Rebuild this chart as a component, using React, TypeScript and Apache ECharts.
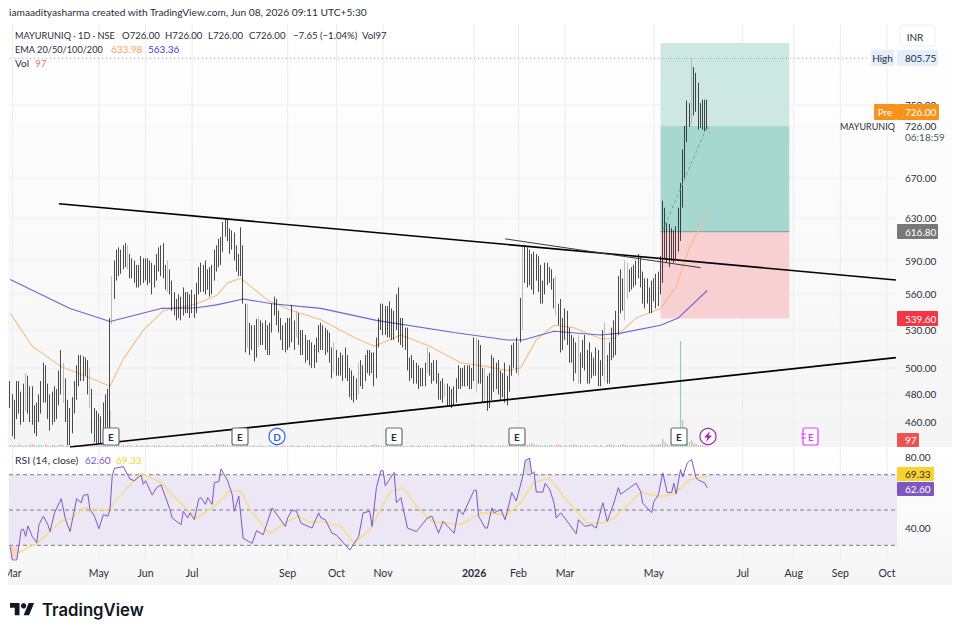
// App.tsx
import React, { useEffect, useRef } from 'react';
import * as echarts from 'echarts';

// every candle row is [open, close, low, high], one row per trading day
const candlesSpring2025 = [
  [486,476,470,490],[476,466,450,480],[466,472,448,476],[472,486,462,490],[486,478,466,490],[478,466,458,482],[466,484,460,488],[484,490,468,496],[490,474,466,494],[474,482,460,486],
  [482,468,458,486],[468,460,452,472],[460,470,450,474],[470,478,460,480],[478,486,466,490],[486,498,474,504],[498,482,474,502],[482,474,462,488],[474,466,454,480],[466,478,458,482],
  [478,470,460,486],[470,480,462,484],[480,490,472,498],[490,498,480,514],[498,486,474,504],[486,470,460,492],[470,448,444,476],[448,462,444,470],[462,472,452,478],[472,486,466,490],
  [486,498,476,502],[498,506,486,510],[506,498,490,510],[498,504,490,509],[504,500,494,508],[500,494,480,506],[494,478,470,500],[478,462,452,484],[462,452,446,470],[452,462,445,468],
  [462,450,445,466],[450,458,445,464],[458,470,450,474],[470,462,454,480],[462,474,456,484],[470,536,450,540],
];
const candlesSummer2025 = [
  [538,558,535,576],[560,580,556,590],[580,592,572,600],[592,584,576,602],[584,596,578,600],[596,590,582,604],[590,600,584,606],[600,590,582,604],[590,582,574,596],[582,586,574,592],
  [586,574,570,590],[574,580,566,586],[580,572,566,586],[572,590,568,594],[590,578,570,592],[578,588,572,592],[588,574,568,592],[574,584,570,590],[584,572,560,588],[572,580,566,586],
  [580,588,572,596],[588,598,580,602],[598,590,576,604],[590,578,574,606],[578,570,564,586],[570,576,562,590],[576,566,560,582],[566,556,546,572],[556,550,542,562],[550,546,538,556],
  [546,552,540,560],[552,546,538,558],[546,558,542,566],[558,550,544,562],[550,556,544,562],[556,548,540,560],[548,556,544,564],[556,548,540,560],[548,566,544,570],[566,576,560,584],
  [576,568,562,588],[568,578,562,586],[578,570,560,590],[570,574,564,582],[574,566,558,584],[566,578,560,586],[578,588,572,600],[588,596,580,604],[596,590,584,610],[590,604,586,612],
  [604,620,598,626],[620,626,612,630],[624,616,608,628],[616,606,596,620],[606,612,600,618],[612,598,590,616],[598,588,580,604],[588,582,576,596],[580,610,576,621],
];
const candlesAutumn2025 = [
  [600,558,552,604],[548,522,512,552],[522,530,516,552],[528,520,510,536],[520,528,514,534],[522,515,505,534],[515,522,508,539],[522,534,516,540],[534,524,518,538],[524,530,518,536],
  [530,522,514,538],[522,518,510,534],[518,532,510,536],[532,548,528,552],[548,556,542,558],[552,540,534,556],[540,534,528,546],[534,528,522,540],[528,522,514,534],[522,530,512,536],
  [530,520,514,540],[520,528,516,540],[528,534,520,551],[534,528,514,538],[528,540,524,546],[540,524,518,544],[524,516,510,530],[516,522,510,530],[522,512,504,526],[512,518,506,522],
  [518,508,502,522],[508,514,500,520],[514,506,500,518],[506,516,504,524],[516,526,512,534],[530,520,514,536],[520,526,514,534],[526,516,510,532],[516,522,512,530],[522,510,504,528],
  [510,500,492,516],[500,506,496,520],[506,498,494,514],[498,502,494,508],[502,506,494,512],[506,498,490,510],[498,504,492,516],[504,496,490,510],[496,484,478,500],[484,490,476,498],
  [490,482,474,494],[482,486,476,492],[486,500,480,504],[500,492,486,506],[492,498,484,502],[498,504,490,510],[504,510,496,514],[510,500,494,514],[500,506,496,512],[506,492,486,512],
  [496,520,492,524],[520,534,516,540],[534,546,530,552],[546,530,526,552],[530,544,526,550],[544,530,524,550],[530,542,524,554],[542,528,522,548],[528,540,522,546],[540,548,530,560],
  [560,528,520,566],
];
const candlesWinter2026 = [
  [528,534,518,540],[534,520,516,540],[520,528,514,532],[528,504,498,532],[504,496,490,508],[496,504,492,510],[504,494,488,506],[494,498,488,504],[498,490,484,502],[490,496,486,500],
  [496,490,486,500],[490,500,486,504],[500,508,496,516],[508,500,494,512],[500,494,488,504],[494,502,490,506],[502,492,488,506],[492,482,476,496],[482,486,476,490],[486,480,474,492],
  [480,484,478,488],[484,476,472,488],[476,480,472,486],[480,474,470,484],[474,480,472,486],[480,488,474,492],[488,496,484,502],[496,490,484,500],[490,498,486,500],[498,492,486,502],
  [492,498,486,502],[498,490,484,502],[490,496,484,500],[496,520,490,524],[520,488,482,524],[500,516,488,522],[516,496,488,518],[496,486,474,500],[486,490,474,500],[490,472,468,494],
  [472,480,470,496],[480,502,476,510],[502,488,482,508],[488,498,484,504],[498,484,480,506],[484,492,476,498],[492,484,478,496],[484,490,474,504],[490,486,472,494],[486,498,482,502],
  [498,514,494,518],[514,506,500,520],[506,514,496,524],[514,502,494,520],[526,536,520,557],
];
const candlesSpring2026 = [
  [538,598,530,604],[598,588,570,604],[588,576,566,602],[576,590,568,600],[590,580,564,596],[580,576,560,598],[576,592,572,596],[592,572,562,594],[572,558,552,586],[558,566,552,572],
  [566,584,560,588],[584,574,568,588],[574,580,570,584],[580,570,564,582],[570,556,548,574],[556,548,542,576],[548,540,534,552],[540,520,512,556],[520,530,514,540],[530,542,522,548],
  [542,528,518,546],[528,512,504,532],[512,520,504,526],[520,500,490,524],[500,514,496,520],[514,490,488,526],[490,508,488,512],[508,518,500,522],[518,504,498,526],[504,510,488,514],
  [510,496,488,520],[496,504,492,512],[504,500,494,508],[500,510,494,516],[510,492,486,514],[492,502,486,506],[502,520,494,530],[520,506,490,536],[506,494,488,510],[494,512,488,520],
  [512,526,506,532],[526,514,508,538],[514,530,510,546],[530,572,526,576],[572,552,544,582],[552,566,546,574],[566,550,538,590],[566,578,556,588],[578,570,562,582],[570,580,564,584],
  [580,572,566,586],[572,582,568,590],[582,592,574,596],[592,576,566,594],[576,560,552,580],[560,570,548,574],[570,558,552,574],[558,548,544,566],[548,560,544,572],[560,570,554,574],
  [570,556,548,578],[556,566,550,580],[566,590,560,594],
];
const candlesRally2026 = [
  [590,628,570,647],[628,604,592,640],[604,618,588,625],[618,596,584,624],[596,612,590,620],[612,596,588,618],[596,610,590,622],[610,622,598,640],[622,650,608,665],[650,676,640,700],
  [676,718,670,726],[718,742,708,755],[740,735,725,752],[735,770,728,805.75],[770,748,738,795],[748,770,742,788],[770,745,722,776],[745,735,724,752],[735,752,722,756],[752,730,720,756],
  [745,733.65,722,756],
];

// candles that show as light grey in the picture
const greyBars = [7,24,36,46,53,71,107,112,129,146,157,188,196,210,214,229,231,246,256,268,277,278,307];

const volumes = [
  2,1,2,1,3,2,1,2,1,2,3,2,1,2,2,1,3,2,1,2,
  2,1,2,3,2,1,3,2,1,2,2,1,2,1,3,2,1,2,2,3,
  2,4,3,2,6,37,6,3,2,2,1,2,1,2,2,1,1,2,1,2,
  1,1,2,1,1,2,1,2,1,1,1,2,1,1,2,1,1,1,2,1,
  1,2,1,1,2,1,1,2,2,2,1,2,1,3,3,2,3,2,2,1,
  2,1,2,2,3,4,2,2,1,1,2,1,1,2,1,1,1,2,1,1,
  2,1,1,2,1,1,1,2,1,1,2,1,1,1,2,1,1,2,1,1,
  1,2,1,1,2,1,1,1,2,1,1,2,1,1,1,2,1,1,2,1,
  2,1,1,2,3,2,2,1,1,2,1,1,2,1,2,1,1,2,1,1,
  1,2,1,1,2,1,1,1,2,1,1,1,2,1,1,1,2,1,1,1,
  2,1,1,2,1,1,2,1,3,2,1,2,2,1,2,1,1,2,1,1,
  2,1,2,1,2,3,2,4,2,2,3,4,3,2,3,4,3,2,2,2,
  1,2,1,2,2,1,2,3,2,1,2,1,2,2,3,2,1,2,1,2,
  2,1,1,2,2,1,2,1,1,2,3,2,2,1,2,2,3,2,2,1,
  2,2,1,2,1,2,2,1,2,3,2,2,3,3,8,5,3,2,3,2,
  3,3,106,27,5,4,5,7,4,3,2,2,2,1,1,
];

// ema lines, as [bar, price] points
const ema50Points = [
  [0,544],[10,517],[23,501],[35,493],[45,486],[51,507],[60,530],[69,546],[84,552],[93,559],[98,570],[104,574],[116,555],[127,546],[140,538.5],[155,524],
  [164,517],[176,526],[189,517],[203,504],[215,501],[224,498],[230,500],[237,522],[245,534],[254,532],[266,523],[272,523],[282,540],[293,548],[300,566],[306,602],[314,633.98],
];
const ema200Points = [
  [0,573],[27,548],[45,537],[68,548],[84,548.6],[93,551],[105,556],[118,552],[140,548],[165,538],[200,528],[224,522],[231,522],[245,529],[266,526],[275,527.5],[293,534],[301,540],[314,563.36],
];

const rsiPoints = [
  [0,29.2],[1,21.6],[3,21.6],[5,38.8],[6,39.2],[7,35],[8,41],[10,35],[12,31.5],[13,41.7],[15,46.5],[17,41.7],[18,37.8],[20,48.4],[23,56.4],[25,44.5],[27,37.8],[30,56.4],[32,54.1],[33,58.3],
  [35,58.9],[36,50.3],[38,46.5],[40,39.4],[42,47.4],[44,46.5],[45,50.3],[46,69.4],[47,73.6],[51,74.6],[54,67.5],[56,66.6],[59,69.8],[60,64.6],[61,66.6],[64,58.5],[66,62.7],[68,64.3],[72,50.3],[73,45.5],
  [77,41.7],[78,49.3],[80,45.5],[81,48.4],[83,44.5],[85,56.4],[86,57],[88,53.2],[89,57],[91,53.2],[92,65.6],[94,66],[95,73.3],[98,66.6],[100,58.9],[101,49.3],[103,57.9],[105,34],[109,31.1],[111,38.3],
  [114,36],[116,43.6],[118,51.2],[124,40.7],[125,45.5],[127,49.9],[129,49.3],[131,42.6],[136,39.8],[139,48.4],[140,45.5],[142,44.5],[145,36.9],[147,35.9],[153,27.3],[157,35],[159,48.4],[162,49.3],[163,40.7],[165,62.7],
  [167,72.3],[168,72.3],[169,63.7],[173,71.3],[174,54.1],[176,57],[179,39.8],[183,37.8],[188,45.5],[190,46.5],[193,36.9],[195,43.6],[200,36.9],[202,50.3],[204,47.4],[205,50.3],[209,61.2],[210,61.2],[211,46.5],[214,39.8],
  [215,39.8],[217,51.2],[218,48.4],[221,50.3],[223,44.5],[226,59.9],[228,55.1],[231,69.4],[232,78],[234,79.4],[235,70.4],[236,71.7],[237,60.2],[240,60.2],[241,65.2],[243,61.8],[245,54.1],[246,45.5],[248,48.4],[251,43.6],
  [255,36.5],[256,44.5],[259,40.7],[262,41.7],[264,39.8],[267,54.1],[269,43.6],[272,54.1],[274,62.7],[275,58.9],[282,65.2],[284,60.5],[285,53.8],[289,48.5],[290,54.8],[292,58.6],[294,71],[296,59.9],[298,59.9],[299,65.2],
  [300,59.1],[302,72.9],[303,68.7],[305,76.7],[307,78.6],[309,68.1],[310,67.1],[313,65.2],[314,62.6],
];
const rsiMaPoints = [
  [0,29.2],[3,25.4],[12,31.1],[23,43.6],[28,45.5],[33,51.2],[44,49.9],[48,56],[59,70.8],[68,65.6],[75,56],[84,45.5],[93,53.2],[99,60.8],[104,60.8],[108,50.3],[116,37.8],[118,37.3],[125,43.6],[130,46.5],
  [135,43],[140,43.6],[149,40.7],[155,31.1],[162,38.8],[171,59.9],[177,62.7],[183,52.2],[190,43.6],[203,41.7],[212,48.4],[224,47.4],[230,54.1],[236,65.6],[243,68.1],[249,57.9],[260,42.6],[267,42.6],[272,45.5],[284,59.9],
  [293,57.6],[299,59.1],[306,67.1],[314,69.33],
];
// the parts of the rsi line outside the 30..70 band
const rsiOversold = [[0,30],[1,21.6],[3,21.6],[4,30]];
const rsiOverbought = [[231,70],[232,78],[234,79.4],[235,70]];

// drawings on the price pane, [bar, price]
const upperTrend = [[22,644],[399,572.6]];
const lowerTrend = [[27,442.6],[399,508]];
const thinTrend = [[223,610],[311,583.5]];
const projection = [[294,618],[314,726],[315,718]];

// long position tool: the three price zones over bars 293..351
const positionBars = [293, 351];
const positionZones = [[825,726],[726,616.8],[616.8,539.6]];
const entryPrice = 616.8;
const highPrice = 805.75;
const lastPrice = 726;

const priceTicks = [750,670,630,590,560,530,500,480,460];
const rsiTicks = [80,40];
const rsiLevels = [70,50,30];
const monthBars = [1,40,61,82,125,147,168,209,229,250,290,330,353,374,395];
const monthNames = ['Mar','May','Jun','Jul','Sep','Oct','Nov','2026','Feb','Mar','May','Jul','Aug','Sep','Oct'];

const BAR_COUNT = 400;
const FONT = 'Lato, sans-serif';
const LOGO = 'M14 6H0v7h7v11h7V6zM28 24h-8l7.5-18h8L28 24z';

const text = (x: number, y: number, t: string, fill = '#2a2e39', size = 10, extra: any = {}) => ({
  type: 'text', z: 60,
  style: { x, y, text: t, fill, font: `${extra.weight || 400} ${size}px ${extra.family || FONT}`, textAlign: extra.align || 'left', textVerticalAlign: 'middle' },
});
const box = (x: number, y: number, width: number, height: number, fill: string, z = 55) => ({
  type: 'rect', z, shape: { x, y, width, height, r: 1 }, style: { fill },
});
const marker = (cx: number, t: string) => ([
  { type: 'rect', z: 50, shape: { x: cx - 8, y: 428, width: 16, height: 17, r: 2 }, style: { fill: '#fff', stroke: '#6a6d78', lineWidth: 1.2 } },
  text(cx, 436.5, t, '#2a2e39', 10, { align: 'center', weight: 700 }),
]);

const App: React.FC = () => {
  const chartRef = useRef<HTMLDivElement>(null);

  useEffect(() => {
    if (!chartRef.current) return;
    echarts.graphic.registerShape('tvlogo', echarts.graphic.extendPath(LOGO, {}));
    const chart = echarts.init(chartRef.current, undefined, { renderer: 'svg' });

    const candles = [
      ...candlesSpring2025, ...candlesSummer2025, ...candlesAutumn2025,
      ...candlesWinter2026, ...candlesSpring2026, ...candlesRally2026,
    ];
    const categories = Array.from({ length: BAR_COUNT }, (_, i) => String(i));

    const xAxis = [0, 1, 2].map((gridIndex) => ({
      type: 'category', gridIndex, data: categories, show: false, boundaryGap: true,
    }));
    const base = { coordinateSystem: 'cartesian2d', silent: true, animation: false };
    const onRsi = { xAxisIndex: 1, yAxisIndex: 1 };
    const lineOpts = { type: 'line', showSymbol: false, silent: true, animation: false };

    const hLines = (values: number[], stroke: string, dash: number[] | undefined, axis: any = {}, z = 1) => ({
      ...base, ...axis, type: 'custom', z,
      data: values.map((v) => [0, v]),
      renderItem: (params: any, api: any) => {
        const y = api.coord([0, api.value(1)])[1];
        const c = params.coordSys;
        return { type: 'line', shape: { x1: c.x, y1: y, x2: c.x + c.width, y2: y }, style: { stroke, lineWidth: 1, lineDash: dash } };
      },
    });
    const rsiFill = (points: number[][], fill: string) => ({
      ...base, ...onRsi, type: 'custom', z: 2,
      data: points,
      renderItem: (params: any, api: any) => {
        if (params.dataIndex !== 0) return null;
        return { type: 'polygon', shape: { points: points.map((p) => api.coord(p)) }, style: { fill } };
      },
    });

    const option: any = {
      animation: false,
      grid: [
        { left: 9, width: 888, top: 24, height: 423 },
        { left: 9, width: 888, top: 447, height: 113 },
        { left: 9, width: 888, top: 330, height: 117 },
      ],
      xAxis,
      yAxis: [
        { type: 'log', gridIndex: 0, min: 442.6, max: 849.5, show: false },
        { type: 'value', gridIndex: 1, min: 21.7, max: 85.7, show: false },
        { type: 'value', gridIndex: 2, min: 0, max: 117, show: false },
      ],
      graphic: [
        { type: 'rect', z: -5, shape: { x: 8, y: 24, width: 944, height: 423 }, style: { fill: new echarts.graphic.LinearGradient(0, 0, 0, 1, [{ offset: 0, color: '#ffffff' }, { offset: 1, color: '#f5f5f5' }]) } },
        { type: 'rect', z: -5, shape: { x: 8, y: 447, width: 944, height: 138 }, style: { fill: new echarts.graphic.LinearGradient(0, 0, 0, 1, [{ offset: 0, color: '#ffffff' }, { offset: 1, color: '#f5f5f5' }]) } },
        { type: 'rect', z: 70, shape: { x: 0, y: 560, width: 8, height: 30 }, style: { fill: '#fff' } },

        text(9, 12, 'iamaadityasharma created with TradingView.com, Jun 08, 2026 09:11 UTC+5:30', '#2a2e39', 10.2),
        text(15, 35, 'MAYURUNIQ · 1D · NSE', '#2a2e39', 9.2),
        text(122, 35, 'O726.00', '#2a2e39', 9.6), text(165, 35, 'H726.00', '#2a2e39', 9.6), text(208, 35, 'L726.00', '#2a2e39', 9.6), text(249, 35, 'C726.00', '#2a2e39', 9.6),
        text(293, 35, '−7.65 (−1.04%)', '#2a2e39', 9.6), text(362, 35, 'Vol97', '#2a2e39', 9.6),
        text(15, 49, 'EMA 20/50/100/200', '#2a2e39', 9.2), text(111, 49, '633.98', '#f7a35c'), text(148, 49, '563.36', '#3f3fd0'),
        text(15, 63, 'Vol'), text(35, 63, '97', '#e57373'),

        { type: 'rect', z: 50, shape: { x: 900, y: 25, width: 35, height: 21, r: 2 }, style: { fill: '#fff', stroke: '#eeeeee' } },
        text(915, 37, 'INR', '#2a2e39', 10, { align: 'center' }),

        box(871, 50, 23, 16, '#e3effd'), text(882.5, 58, 'High', '#2a2e39', 10, { align: 'center' }),
        box(897, 50, 41, 16, '#e3effd'), text(905, 58, '805.75'),
        box(874, 104, 22, 16, '#f7931a'), text(885, 112, 'Pre', '#fff', 10, { align: 'center' }),
        box(896, 104, 43, 16, '#f7931a'), text(905, 112, '726.00', '#fff'),
        text(840, 126, 'MAYURUNIQ', '#2a2e39', 9), text(905, 126, '726.00'), text(905, 137, '06:18:59', '#50535e'),
        box(897, 224, 41, 15, '#787878'), text(905, 231.5, '616.80', '#fff'),
        box(897, 311, 41, 15, '#f23645'), text(905, 318.5, '539.60', '#fff'),
        box(897, 433, 22, 14, '#ef5350'), text(905, 440, '97', '#fff'),
        box(897, 467, 37, 14, '#f9d22e'), text(905, 474, '69.33', '#2a2e39'),
        box(897, 482, 37, 14, '#7e57c2'), text(905, 489, '62.60', '#fff'),
        text(15, 460, 'RSI (14, close)', '#2a2e39', 10.4), text(85, 460, '62.60', '#7e57c2'), text(116, 460, '69.33', '#f9d22e'),

        ...marker(111, 'E'), ...marker(240, 'E'), ...marker(394, 'E'), ...marker(517, 'E'), ...marker(679, 'E'),
        { type: 'circle', z: 50, shape: { cx: 277, cy: 436.5, r: 8 }, style: { fill: '#fff', stroke: '#2962ff', lineWidth: 1.2 } },
        text(277, 436.5, 'D', '#2962ff', 10, { align: 'center', weight: 700 }),
        { type: 'circle', z: 50, shape: { cx: 708, cy: 436.5, r: 8 }, style: { fill: '#fff', stroke: '#9c27b0', lineWidth: 1.2 } },
        { type: 'polygon', z: 51, shape: { points: [[710, 431], [704, 437.5], [707.5, 437.5], [706, 442], [712, 435.5], [708.5, 435.5]] }, style: { fill: '#9c27b0' } },
        { type: 'rect', z: 50, shape: { x: 803, y: 428, width: 15, height: 17, r: 2 }, style: { fill: '#fff', stroke: '#e040fb', lineWidth: 1.2 } },
        { type: 'line', z: 51, shape: { x1: 801, y1: 434, x2: 806, y2: 434 }, style: { stroke: '#e040fb' } },
        { type: 'line', z: 51, shape: { x1: 801, y1: 438, x2: 806, y2: 438 }, style: { stroke: '#e040fb' } },
        text(811, 436.5, 'E', '#e040fb', 10, { align: 'center', weight: 700 }),

        { type: 'tvlogo', z: 60, x: 10, y: 599, scaleX: 0.68, scaleY: 0.68, style: { fill: '#131722' } },
        { type: 'circle', z: 60, shape: { cx: 23.6, cy: 605.8, r: 2.7 }, style: { fill: '#131722' } },
        text(42, 610, 'TradingView', '#131722', 16.7, { weight: 600, family: 'Inter, sans-serif' }),
      ],
      series: [
        // pane gridlines
        {
          ...base, type: 'custom', z: 1,
          data: monthBars.map((b) => [b, 0]),
          renderItem: (params: any, api: any) => {
            const x = api.coord([api.value(0), 500])[0];
            return { type: 'line', shape: { x1: x, y1: 24, x2: x, y2: 560 }, style: { stroke: '#ececec', lineWidth: 1 } };
          },
        },
        hLines(priceTicks, '#f0f0f0', undefined),
        // long position zones
        {
          ...base, type: 'custom', z: 1,
          data: positionZones.map((z) => [positionBars[0], z[0], positionBars[1], z[1]]),
          encode: { x: 0, y: 1 },
          renderItem: (params: any, api: any) => {
            const a = api.coord([api.value(0), api.value(1)]);
            const b = api.coord([api.value(2), api.value(3)]);
            const fills = ['#cde8e2', '#a6d8cf', '#f8d0d2'];
            return { type: 'rect', shape: { x: a[0], y: a[1], width: b[0] - a[0], height: b[1] - a[1] }, style: { fill: fills[params.dataIndex] } };
          },
        },
        {
          ...lineOpts, name: 'entry', z: 2, lineStyle: { color: '#7f9e98', width: 1 },
          data: [[positionBars[0], entryPrice], [positionBars[1], entryPrice]],
        },
        // rsi band
        {
          ...base, ...onRsi, type: 'custom', z: 1,
          data: [[0, rsiLevels[0], rsiLevels[2]]],
          encode: { x: 0, y: 1 },
          renderItem: (params: any, api: any) => {
            const c = params.coordSys;
            const top = api.coord([0, api.value(1)])[1];
            const bottom = api.coord([0, api.value(2)])[1];
            return { type: 'rect', shape: { x: c.x, y: top, width: c.width, height: bottom - top }, style: { fill: '#ece7f5' } };
          },
        },
        rsiFill(rsiOversold, '#f9d5d6'),
        rsiFill(rsiOverbought, '#d8e2e6'),
        hLines(rsiLevels, '#787b86', [4, 3], onRsi, 2),
        // volume
        {
          type: 'bar', xAxisIndex: 2, yAxisIndex: 2, barWidth: 1.2, z: 2, silent: true, animation: false,
          data: volumes.map((v, i) => ({
            value: v,
            itemStyle: { color: candles[i] && candles[i][1] >= candles[i][0] ? '#8fcfc4' : '#f2a9a9' },
          })),
        },
        // dotted price lines
        { ...lineOpts, z: 3, lineStyle: { color: '#9a9ca3', width: 1, type: [1, 3] }, data: [[0, highPrice], [387, highPrice]] },
        { ...lineOpts, z: 3, lineStyle: { color: '#e9d9a0', width: 1, type: [1, 3] }, data: [[0, lastPrice], [387, lastPrice]] },
        // ema
        { ...lineOpts, z: 4, lineStyle: { color: '#f4bd85', width: 1.1 }, data: ema50Points },
        { ...lineOpts, z: 4, lineStyle: { color: '#6a66d8', width: 1.1 }, data: ema200Points },
        // candles
        {
          type: 'candlestick', z: 5, barWidth: 1.3, silent: true, animation: false,
          itemStyle: { color: '#000', color0: '#000', borderColor: '#000', borderColor0: '#000', borderWidth: 0.7 },
          data: candles.map((c, i) => (greyBars.includes(i)
            ? { value: c, itemStyle: { color: '#b8b8b8', color0: '#b8b8b8', borderColor: '#a0a0a0', borderColor0: '#a0a0a0' } }
            : { value: c })),
        },
        // drawings
        { ...lineOpts, z: 6, lineStyle: { color: '#000', width: 1.6 }, data: upperTrend },
        { ...lineOpts, z: 6, lineStyle: { color: '#000', width: 1.6 }, data: lowerTrend },
        { ...lineOpts, z: 6, lineStyle: { color: '#3a3a3a', width: 1 }, data: thinTrend },
        { ...lineOpts, z: 6, lineStyle: { color: '#7d9c97', width: 1, type: [3, 3] }, data: projection },
        // rsi lines
        { ...lineOpts, ...onRsi, z: 6, lineStyle: { color: '#f7dc8c', width: 1.6 }, data: rsiMaPoints },
        { ...lineOpts, ...onRsi, z: 7, lineStyle: { color: '#7e57c2', width: 1 }, data: rsiPoints },
        // axis labels
        {
          ...base, type: 'custom', z: 8,
          data: priceTicks.map((v) => [0, v]),
          renderItem: (params: any, api: any) => ({
            type: 'text',
            style: { x: 905, y: api.coord([0, api.value(1)])[1], text: api.value(1).toFixed(2), fill: '#2a2e39', font: `400 10px ${FONT}`, textVerticalAlign: 'middle' },
          }),
        },
        {
          ...base, ...onRsi, type: 'custom', z: 8,
          data: rsiTicks.map((v) => [0, v]),
          renderItem: (params: any, api: any) => ({
            type: 'text',
            style: { x: 905, y: api.coord([0, api.value(1)])[1], text: api.value(1).toFixed(2), fill: '#2a2e39', font: `400 10px ${FONT}`, textVerticalAlign: 'middle' },
          }),
        },
        {
          ...base, ...onRsi, type: 'custom', z: 8,
          data: monthBars.map((b) => [b, 50]),
          renderItem: (params: any, api: any) => {
            const name = monthNames[params.dataIndex];
            return {
              type: 'text',
              style: { x: api.coord([api.value(0), 50])[0], y: 573, text: name, fill: '#2a2e39', font: `${name === '2026' ? 700 : 400} 10.5px ${FONT}`, textAlign: 'center', textVerticalAlign: 'middle' },
            };
          },
        },
      ],
    };

    chart.setOption(option);
    return () => {
      chart.dispose();
    };
  }, []);

  return <div ref={chartRef} style={{ position: 'fixed', left: 0, top: 0, width: 960, height: 635, background: '#fff' }}></div>;
};

export default App;
